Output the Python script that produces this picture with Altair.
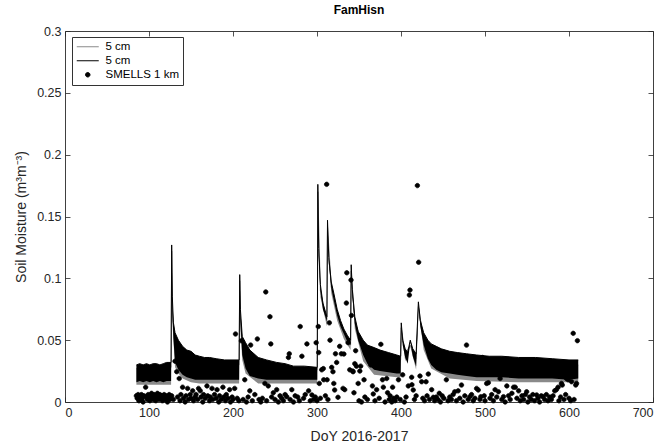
import altair as alt
import pandas as pd

# ---------------- data ----------------
# black "5 cm" probe: (DoY, lower edge of noisy band, upper edge)
blk = [
    (85, .016, .030), (89, .017, .031), (93, .016, .030), (97, .017, .031),
    (101, .016, .030), (105, .017, .031), (109, .016, .031), (113, .017, .030),
    (117, .016, .031), (121, .017, .032), (126.3, .017, .032), (127, .125, .127),
    (127.8, .075, .085), (129, .052, .064), (131, .032, .056), (135, .026, .050),
    (140, .022, .045), (145, .020, .042), (150, .019, .041), (155, .018, .038),
    (160, .018, .037), (166, .018, .036), (172, .018, .036), (180, .018, .035),
    (190, .018, .034), (200, .018, .034), (207.3, .018, .034), (208, .100, .103),
    (208.8, .065, .075), (211, .038, .053), (215, .027, .048), (220, .021, .042),
    (230, .019, .036), (240, .018, .034), (252, .018, .032), (262, .018, .031),
    (272, .018, .029), (285, .018, .029), (300.3, .018, .028), (301, .172, .176),
    (302, .118, .124), (304, .090, .095), (307, .075, .080), (311.8, .065, .069),
    (312.5, .145, .147), (314, .112, .117), (317, .092, .097), (320, .082, .088),
    (324, .070, .075), (328, .061, .066), (332, .055, .059), (336, .049, .054),
    (340, .046, .050), (340.7, .109, .111), (342, .086, .091), (345, .063, .069),
    (349, .050, .057), (355, .038, .050), (360, .031, .046), (368, .026, .044),
    (375, .025, .042), (385, .024, .040), (395, .023, .038), (399.6, .023, .037),
    (400.3, .062, .064), (402, .046, .050), (405, .036, .043), (408, .031, .040),
    (411, .049, .050), (414, .037, .043), (418, .029, .039), (420.7, .079, .081),
    (423, .061, .066), (427, .046, .056), (432, .035, .050), (436, .030, .047),
    (442, .026, .045), (448, .024, .043), (458, .023, .041), (467, .022, .040),
    (478, .021, .039), (490, .020, .038), (505, .020, .037), (520, .020, .037),
    (540, .019, .036), (560, .019, .036), (580, .019, .035), (600, .018, .034),
    (611, .019, .034),
]

# grey "5 cm" probe: (DoY, lower edge, upper edge)
gry = [
    (85, .014, .027), (105, .014, .028), (126.3, .014, .028), (127, .120, .122),
    (127.8, .065, .075), (131, .028, .050), (135, .023, .045), (140, .019, .040),
    (150, .016, .036), (160, .015, .033), (180, .015, .031), (207.3, .015, .030),
    (208, .095, .098), (208.8, .058, .068), (211, .034, .048), (215, .023, .043),
    (230, .015, .032), (250, .015, .029), (270, .015, .027), (300.3, .015, .026),
    (301, .167, .170), (304, .085, .090), (311.8, .061, .065), (312.5, .140, .142),
    (317, .088, .093), (324, .066, .071), (332, .051, .055), (340, .042, .046),
    (340.7, .104, .106), (345, .059, .065), (355, .033, .045), (368, .022, .040),
    (395, .020, .034), (399.6, .020, .034), (400.3, .058, .060), (405, .033, .039),
    (411, .045, .046), (418, .026, .035), (420.7, .075, .077), (427, .042, .051),
    (436, .027, .043), (458, .019, .037), (490, .017, .034), (540, .016, .032),
    (580, .016, .031), (611, .016, .030),
]

# SMELLS 1 km retrievals: (DoY, soil moisture)
smells = [
    (85, .005), (86, .003), (87, .006), (88, .001), (89, .004), (90, .002), (91, .006),
    (92, .003), (93, .000), (94, .005), (96, .012), (97, .004), (98, .002), (99, .006),
    (100, .003), (101, .001), (102, .005), (103, .007), (104, .004), (105, .002),
    (106, .006), (107, .003), (108, .001), (109, .005), (110, .007), (111, .004),
    (112, .002), (113, .006), (114, .003), (115, .005), (116, .001), (117, .004),
    (118, .006), (119, .002), (120, .005), (121, .003), (122, .000), (123, .004),
    (124, .006), (125, .002), (126, .004),
    (127, .005), (129, .002), (131, .033), (133, .0245), (134, .004), (136, .019),
    (137, .001), (138, .006), (140, .012), (141, .003), (143, .000), (144, .005),
    (146, .011), (147, .002), (149, .006), (150, .003), (152, .009), (153, .001),
    (155, .004), (156, .006), (158, .002), (159, .011), (161, .009), (162, .004),
    (164, .000), (165, .006), (167, .003), (169, .013), (170, .005), (172, .001),
    (173, .004), (175, .011), (176, .002), (178, .006), (180, .003), (181, .010),
    (183, .000), (184, .005), (186, .002), (188, .012), (189, .004), (191, .001),
    (192, .006), (194, .003), (196, .010), (197, .000), (199, .004), (200, .002),
    (202, .011), (203, .055), (205, .003), (207, .001), (210, .0495), (212, .002),
    (214, .018), (216, .000), (218, .004), (220, .009), (221, .046), (223, .001),
    (226, .006), (229, .051), (231, .002), (233, .000), (235, .003), (238, .015),
    (239, .089), (240, .001), (242, .013), (244, .069), (245, .047), (246, .004),
    (248, .0075), (250, .002), (252, .010), (254, .000), (256, .005), (258, .003),
    (260, .001), (262, .006), (264, .0043), (266, .036), (267, .039), (268, .002),
    (270, .010), (272, .000), (274, .005), (277, .004), (279, .001), (280, .061),
    (282, .037), (284, .003), (286, .006), (288, .047), (290, .009), (292, .001),
    (294, .0057), (296, .002), (298, .004), (299, .048),
    (300, .001), (301.5, .061), (302, .040), (302.7, .015), (304, .003), (305.6, .026),
    (307.5, .027), (308, .018), (310, .005), (311.5, .176), (312, .018), (313, .002),
    (314.7, .064), (315.5, .050), (317.5, .028), (319, .0245), (320, .015),
    (321, .0097), (322, .039), (323.4, .032), (325, .0038), (327, .045), (329, .039),
    (331, .011), (332, .0388), (333, .010), (335, .080), (335.5, .1045), (337, .048),
    (339, .026), (340.5, .0986), (341, .070), (342.5, .025), (343, .0245),
    (344, .0075), (345, .031), (346, .0415), (347, .029), (349, .015), (350, .001),
    (351, .025), (352, .029), (353, .000), (356, .018), (357, .004), (360, .002),
    (364, .030), (366, .013), (367, .0065), (369, .001), (371, .010), (374, .003),
    (376, .0466), (378, .018), (379, .012), (381, .000), (383, .019), (384, .0075),
    (386, .002), (387, .005), (389, .000), (390, .012), (391, .003), (393, .001),
    (395, .004), (397, .018), (399, .002), (402, .022), (404, .000), (406, .004),
    (408.7, .013), (410, .0865), (410.7, .0905), (412.7, .020), (413, .014),
    (414.6, .0097), (416, .002), (418, .005), (419.5, .175), (421, .113),
    (422.6, .021), (424.6, .0164), (426, .003), (428, .001), (429.8, .0164),
    (431, .005), (432.5, .0226), (434, .002), (436.5, .010), (438.5, .0038), (440, .001),
    (442, .004), (444, .002), (445.6, .007), (447, .000), (449, .005), (451, .003),
    (454, .018), (456, .001), (458, .004), (460, .002), (462, .006), (464, .0083),
    (466, .001), (468, .009), (470, .003), (472, .0137), (474, .000), (476, .005),
    (478, .046), (480, .002), (482, .0043), (484, .006), (486, .001), (488, .003),
    (490, .011), (492, .0097), (494, .002), (495, .0043), (497, .036), (499, .005),
    (500, .001), (502, .015), (504, .0156), (506, .003), (508, .006), (510, .001),
    (512, .010), (514, .004), (516, .0083), (518, .019), (520, .002), (522, .0043),
    (524, .000), (526, .013), (528, .005), (530, .002), (532, .007), (534, .012),
    (536, .012), (538, .003), (540, .009), (542, .001), (544, .005), (546, .002),
    (548, .006), (549.6, .0083), (551, .000), (553, .004), (555, .002), (557, .006),
    (559, .001), (561.5, .0057), (563, .003), (565, .000), (567, .005), (569, .0043),
    (571, .002), (573, .006), (575, .001), (577, .004), (579, .002), (581, .005),
    (583, .009), (585, .010), (587, .012), (588, .001), (590, .004), (591, .015),
    (592, .0137), (594, .002), (596, .006), (597, .019), (599, .018), (600, .003),
    (602, .001), (603, .0164), (605, .0555), (606, .002), (608, .0137), (609, .015),
    (610, .0496),
]

x_ticks = [0, 100, 200, 300, 400, 500, 600, 700]
y_ticks = [0, 0.05, 0.1, 0.15, 0.2, 0.25, 0.3]
series_names = ["5 cm a", "5 cm b", "SMELLS 1 km"]
series_colors = ["#8a8a8a", "#000000", "#000000"]

# ---------------- tables ----------------
df_b = pd.DataFrame(blk, columns=["doy", "lo", "hi"])
df_g = pd.DataFrame(gry, columns=["doy", "lo", "hi"])
df_s = pd.DataFrame(smells, columns=["doy", "sm"])
df_s["series"] = "SMELLS 1 km"

FONT = "Liberation Sans"
AX = "#262626"
xs = alt.Scale(domain=[0, 700], nice=False, zero=False)
ys = alt.Scale(domain=[0, 0.3], nice=False)

common_axis = dict(grid=False, domain=False, tickColor=AX, tickSize=5, tickWidth=0.8,
                   offset=-5, labelFont=FONT, labelFontSize=12.5, labelColor=AX,
                   titleFont=FONT, titleFontWeight="normal", titleColor=AX)

x_bottom = alt.Axis(values=x_ticks, title="DoY 2016-2017", titleFontSize=14,
                    labelPadding=4, titlePadding=11, **common_axis)
y_left = alt.Axis(values=y_ticks, format="~g", title="Soil Moisture (m³m⁻³)",
                  titleFontSize=14, labelPadding=4, titlePadding=8, **common_axis)
x_top = alt.Axis(values=x_ticks, orient="top", labels=False, title=None, **common_axis)
y_right = alt.Axis(values=y_ticks, orient="right", labels=False, title=None, **common_axis)

circle_path = "M0.45,0A0.45,0.45,0,1,1,-0.45,0A0.45,0.45,0,1,1,0.45,0Z"
line_path = "M-2.2,0H2.2"
leg = alt.Legend(
    title=None, orient="none", legendX=7, legendY=6,
    strokeColor="#333333", fillColor="white", padding=4,
    labelFont=FONT, labelFontSize=11.5, labelColor="#000000",
    labelExpr="datum.label == 'SMELLS 1 km' ? datum.label : '5 cm'",
    symbolStrokeWidth=1, symbolSize=100, rowPadding=1, labelOffset=12,
    symbolOffset=6,
)

g_area = alt.Chart(df_g).mark_area(color="#8a8a8a", opacity=1).encode(
    x=alt.X("doy:Q", scale=xs, axis=x_bottom),
    y=alt.Y("lo:Q", scale=ys, axis=y_left),
    y2="hi:Q",
)
g_line = alt.Chart(df_g).mark_line(color="#8a8a8a", strokeWidth=1).encode(
    x=alt.X("doy:Q", scale=xs, axis=None),
    y=alt.Y("hi:Q", scale=ys, axis=None),
)
b_area = alt.Chart(df_b).mark_area(color="#000000", opacity=1).encode(
    x=alt.X("doy:Q", scale=xs, axis=None),
    y=alt.Y("lo:Q", scale=ys, axis=None),
    y2="hi:Q",
)
b_line = alt.Chart(df_b).mark_line(color="#000000", strokeWidth=1).encode(
    x=alt.X("doy:Q", scale=xs, axis=None),
    y=alt.Y("hi:Q", scale=ys, axis=None),
)
dots = alt.Chart(df_s).mark_point(filled=True, size=100, strokeWidth=0.7, opacity=1).encode(
    x=alt.X("doy:Q", scale=xs, axis=x_top),
    y=alt.Y("sm:Q", scale=ys, axis=y_right),
    fill=alt.Fill("series:N", scale=alt.Scale(domain=series_names, range=series_colors), legend=leg),
    stroke=alt.Stroke("series:N", scale=alt.Scale(domain=series_names, range=series_colors), legend=leg),
    shape=alt.Shape("series:N", scale=alt.Scale(domain=series_names,
                                                range=[line_path, line_path, circle_path]), legend=leg),
)

chart = alt.layer(g_area, g_line, b_area, b_line, dots).resolve_axis(
    x="independent", y="independent"
).properties(
    width=588, height=371,
    title=alt.TitleParams("FamHisn", font=FONT, fontSize=12, fontWeight="bold",
                          color="#000000", anchor="middle", offset=8),
    autosize=alt.AutoSizeParams(type="none"),
    padding={"left": 65, "top": 31, "right": 13, "bottom": 44},
    background="white",
).configure_view(stroke="#404040", strokeWidth=1)

chart.save("out.html", embed_options={"renderer": "svg", "actions": False})
